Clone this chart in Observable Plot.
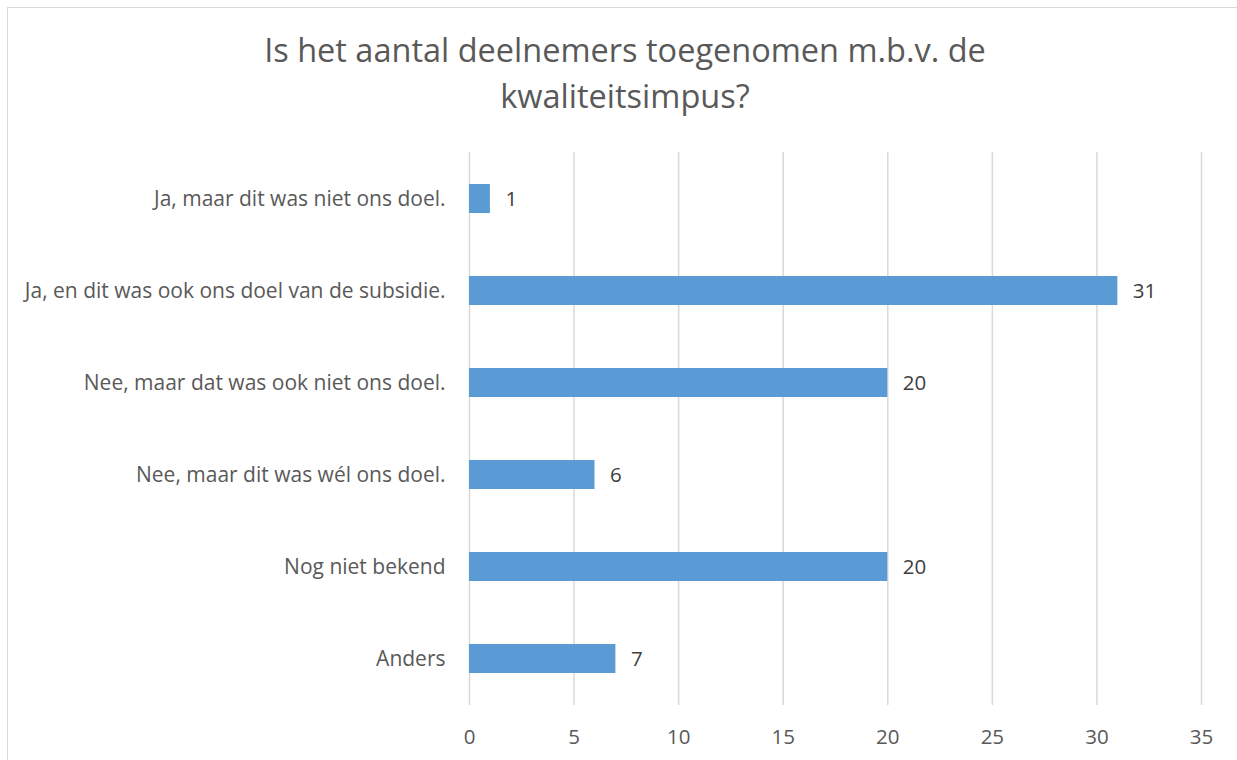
<!DOCTYPE html>
<html><head><meta charset="utf-8">
<script src="https://cdn.jsdelivr.net/npm/d3@7"></script>
<script src="https://cdn.jsdelivr.net/npm/@observablehq/plot@0.6"></script>
<style>
body{margin:0;background:#fff;}
#wrap{position:relative;width:1237px;height:760px;overflow:hidden;font-family:"Open Sans",sans-serif;}
#frame{position:absolute;left:7px;top:7px;width:1250px;height:780px;border:1.5px solid #d9d9d9;box-sizing:border-box;}
#title{position:absolute;left:0;top:0;width:1250px;text-align:center;color:#595959;font-size:32.5px;line-height:46px;padding-top:27px;}
#chart{position:absolute;left:0;top:130px;}
</style></head>
<body><div id="wrap"><div id="frame"></div>
<div id="title">Is het aantal deelnemers toegenomen m.b.v. de<br>kwaliteitsimpus?</div>
<div id="chart"></div></div>
<script>
const categories = [
  "Ja, maar dit was niet ons doel.",
  "Ja, en dit was ook ons doel van de subsidie.",
  "Nee, maar dat was ook niet ons doel.",
  "Nee, maar dit was wél ons doel.",
  "Nog niet bekend",
  "Anders"
];
const values = [1, 31, 20, 6, 20, 7];
const xTicks = [0, 5, 10, 15, 20, 25, 30, 35];
const data = categories.map((c, i) => ({category: c, value: values[i]}));

const plot = Plot.plot({
  width: 1237,
  height: 630,
  marginLeft: 469,
  marginRight: 36,
  marginTop: 22,
  marginBottom: 55,
  style: {fontFamily: "'Open Sans', sans-serif", fontSize: "20px", color: "#595959", background: "transparent"},
  x: {domain: [0, 35], ticks: xTicks, label: null},
  y: {domain: categories, label: null, paddingInner: 0.685, paddingOuter: 0.3425},
  marks: [
    Plot.ruleX(xTicks, {stroke: "#d9d9d9", strokeWidth: 1.5}),
    Plot.barX(data, {x: "value", y: "category", fill: "#5b9bd5"}),
    Plot.text(data, {x: "value", y: "category", text: d => String(d.value), textAnchor: "start", dx: 15, fill: "#404040", fontSize: 20.5}),
    Plot.axisX({ticks: xTicks, tickSize: 0, tickPadding: 24, fontSize: 20.5, fill: "#595959"}),
    Plot.axisY({tickSize: 0, tickPadding: 24, fontSize: 21, fill: "#595959"})
  ]
});
document.getElementById("chart").appendChild(plot);
</script></body></html>
